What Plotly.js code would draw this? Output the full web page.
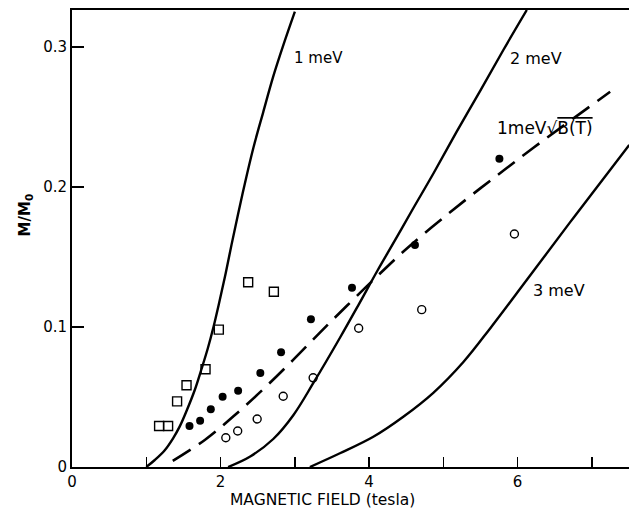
<!DOCTYPE html>
<html>
<head>
<meta charset="utf-8">
<script src="https://cdn.plot.ly/plotly-3.0.1.min.js"></script>
<style>html,body{margin:0;padding:0;background:#fff;}#chart{width:629px;height:519px;}</style>
</head>
<body>
<div id="chart"></div>
<script>
// Theory curves
const curve1meV_B = [1.000, 1.115, 1.249, 1.361, 1.451, 1.542, 1.653, 1.744, 1.830, 1.905, 1.980, 2.060, 2.149, 2.300, 2.440, 2.575, 2.709, 2.850, 3.001];
const curve1meV_M = [0.000, 0.005, 0.012, 0.0205, 0.029, 0.040, 0.055, 0.070, 0.085, 0.100, 0.117, 0.136, 0.159, 0.196, 0.2275, 0.2535, 0.2788, 0.302, 0.3252];

const curve2meV_B = [2.102, 2.400, 2.710, 2.980, 3.250, 3.610, 3.860, 4.110, 4.350, 4.570, 4.870, 5.180, 5.500, 5.810, 6.124];
const curve2meV_M = [0.000, 0.0075, 0.020, 0.037, 0.060, 0.0925, 0.116, 0.140, 0.162, 0.1825, 0.210, 0.2395, 0.269, 0.298, 0.3264];

const curve3meV_B = [3.203, 3.608, 4.057, 4.461, 4.865, 5.270, 5.630, 6.115, 6.761, 7.503];
const curve3meV_M = [0.000, 0.0098, 0.0216, 0.0359, 0.053, 0.075, 0.099, 0.133, 0.1786, 0.230];

const curveSqrt_B = [1.357, 1.788, 2.170, 2.574, 2.978, 3.338, 3.698, 4.282, 4.551, 5.046, 5.497, 5.854, 6.213, 7.246];
const curveSqrt_M = [0.0043, 0.0193, 0.036, 0.0555, 0.0765, 0.096, 0.115, 0.145, 0.158, 0.180, 0.199, 0.2135, 0.228, 0.268];

// Data points
const squares_B = [1.173, 1.294, 1.415, 1.542, 1.798, 1.977, 2.372, 2.718];
const squares_M = [0.0293, 0.0293, 0.0469, 0.0584, 0.0698, 0.0981, 0.1319, 0.1252];

const filled_B = [1.582, 1.725, 1.869, 2.028, 2.237, 2.536, 2.815, 3.217, 3.770, 4.618, 5.755];
const filled_M = [0.0293, 0.0331, 0.0412, 0.0502, 0.0545, 0.0671, 0.0819, 0.1055, 0.1281, 0.1586, 0.2202];

const open_B = [2.071, 2.231, 2.493, 2.844, 3.247, 3.860, 4.709, 5.957];
const open_M = [0.0209, 0.0257, 0.0343, 0.0505, 0.0637, 0.0991, 0.1124, 0.1664];

// Axis ticks
const xTickVals = [0, 2, 4, 6];
const xTickText = ["0", "2", "4", "6"];
const yTickVals = [0, 0.1, 0.2, 0.3];
const yTickText = ["0", "0.1", "0.2", "0.3"];

const FONT = "DejaVu Sans, Liberation Sans, sans-serif";
const solid = {color: "#000", width: 2.4, shape: "spline", smoothing: 1.0};

const traces = [
  {x: curve1meV_B, y: curve1meV_M, mode: "lines", line: solid, hoverinfo: "skip"},
  {x: curve2meV_B, y: curve2meV_M, mode: "lines", line: solid, hoverinfo: "skip"},
  {x: curve3meV_B, y: curve3meV_M, mode: "lines", line: solid, hoverinfo: "skip"},
  {x: curveSqrt_B, y: curveSqrt_M, mode: "lines", line: {color: "#000", width: 2.6, dash: "21px,10px", shape: "spline", smoothing: 1.0}, hoverinfo: "skip"},
  {x: squares_B, y: squares_M, mode: "markers", marker: {symbol: "square-open", size: 9, color: "#000", line: {width: 1.4, color: "#000"}}},
  {x: filled_B, y: filled_M, mode: "markers", marker: {symbol: "circle", size: 8, color: "#000"}},
  {x: open_B, y: open_M, mode: "markers", marker: {symbol: "circle-open", size: 8, color: "#000", line: {width: 1.4, color: "#000"}}}
];

const layout = {
  width: 629, height: 519,
  margin: {l: 72, r: 0, t: 10, b: 52},
  paper_bgcolor: "#fff", plot_bgcolor: "#fff",
  showlegend: false,
  font: {family: FONT, color: "#000", size: 14},
  xaxis: {
    range: [0, 7.5], showgrid: false, zeroline: false,
    showline: true, linecolor: "#000", linewidth: 2, mirror: true,
    ticks: "inside", ticklen: 10, tickwidth: 1.5, tickcolor: "#000",
    tickvals: xTickVals, ticktext: xTickText,
    minor: {dtick: 1, tick0: 0, ticks: "inside", ticklen: 10, tickwidth: 1.5, tickcolor: "#000", showgrid: false},
    tickfont: {family: FONT, size: 15, color: "#000"}
  },
  yaxis: {
    range: [0, 0.3264], showgrid: false, zeroline: false,
    showline: true, linecolor: "#000", linewidth: 2, mirror: false,
    ticks: "inside", ticklen: 12, tickwidth: 1.5, tickcolor: "#000",
    tickvals: yTickVals, ticktext: yTickText,
    tickfont: {family: FONT, size: 15, color: "#000"}
  },
  annotations: [
    {xref: "paper", yref: "paper", x: 0.4506, y: -0.072, text: "MAGNETIC FIELD (tesla)", showarrow: false, xanchor: "center", yanchor: "middle", font: {family: FONT, size: 15.5}},
    {xref: "paper", yref: "paper", x: -0.084, y: 0.551, text: "<b>M/M<sub>0</sub></b>", textangle: -90, showarrow: false, xanchor: "center", yanchor: "middle", font: {family: FONT, size: 15}},
    {x: 2.957, y: 0.292, text: "1 meV", showarrow: false, xanchor: "left", yanchor: "middle", font: {family: FONT, size: 15}},
    {x: 5.87, y: 0.292, text: "2 meV", showarrow: false, xanchor: "left", yanchor: "middle", font: {family: FONT, size: 16}},
    {x: 6.18, y: 0.1264, text: "3 meV", showarrow: false, xanchor: "left", yanchor: "middle", font: {family: FONT, size: 16}},
    {x: 5.696, y: 0.2421, text: "1meV√<span style=\"text-decoration:overline\">B(T)</span>", showarrow: false, xanchor: "left", yanchor: "middle", font: {family: FONT, size: 17}}
  ]
};

Plotly.newPlot("chart", traces, layout, {staticPlot: true, displayModeBar: false});
</script>
</body>
</html>
